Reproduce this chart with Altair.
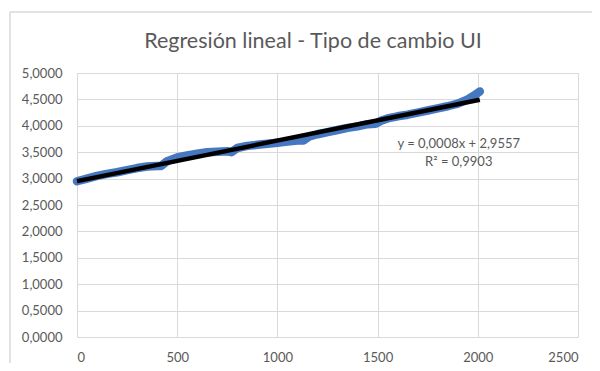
import altair as alt
import pandas as pd

# Blue series: day index vs. UI rate
x_vals = [0, 50, 100, 150, 200, 250, 300, 350, 400, 420, 450, 500, 550, 600, 650,
          700, 750, 770, 800, 850, 900, 950, 1000, 1050, 1100, 1130, 1160, 1200,
          1250, 1300, 1350, 1400, 1450, 1490, 1520, 1550, 1600, 1650, 1700, 1750,
          1800, 1850, 1900, 1950, 1980, 2010]
y_vals = [2.95, 3.00, 3.05, 3.09, 3.12, 3.16, 3.20, 3.23, 3.24, 3.24, 3.33, 3.40,
          3.44, 3.47, 3.50, 3.51, 3.52, 3.50, 3.58, 3.62, 3.64, 3.66, 3.68, 3.70,
          3.72, 3.72, 3.80, 3.84, 3.88, 3.92, 3.96, 3.99, 4.03, 4.04, 4.10, 4.14,
          4.18, 4.21, 4.25, 4.29, 4.33, 4.37, 4.42, 4.50, 4.57, 4.65]

x_ticks = [0, 500, 1000, 1500, 2000, 2500]
y_ticks = [0, 0.5, 1, 1.5, 2, 2.5, 3, 3.5, 4, 4.5, 5]

ann_text = ["y = 0,0008x + 2,9557", "R² = 0,9903"]
ann_x = [1905, 1905]
ann_y = [3.655, 3.31]

title = ["Regresión lineal - Tipo de cambio UI"]

FONT = "Lato"
GRAY = "#595959"
GRID = "#d9d9d9"

df = pd.DataFrame({"x": x_vals, "y": y_vals})
ann = pd.DataFrame({"t": ann_text, "x": ann_x, "y": ann_y})
tdf = pd.DataFrame({"t": title})

xs = alt.Scale(domain=[0, 2500], nice=False)
ys = alt.Scale(domain=[0, 5], nice=False)

x_axis = alt.Axis(values=x_ticks, title=None, grid=True, domain=False, ticks=False,
                  labelPadding=14, labelFont=FONT, labelFontSize=13, labelColor=GRAY,
                  gridColor=GRID, labelOverlap=False, format="d")
y_axis = alt.Axis(values=y_ticks, title=None, grid=True, domain=False, ticks=False,
                  labelPadding=15, labelFont=FONT, labelFontSize=13, labelColor=GRAY,
                  gridColor=GRID, labelOverlap=False,
                  labelExpr="replace(format(datum.value, '.4f'), '.', ',')")

X = alt.X("x:Q", scale=xs, axis=x_axis)
Y = alt.Y("y:Q", scale=ys, axis=y_axis)

base = alt.Chart(df)

series = base.mark_line(color="#4677C1", strokeWidth=8.5, strokeCap="round",
                        strokeJoin="round").encode(x=X, y=Y)

trend = base.transform_regression("x", "y", extent=[0, 2010]).mark_line(
    color="black", strokeWidth=4.5).encode(x=X, y=Y)

labels = alt.Chart(ann).mark_text(font=FONT, fontSize=13, color=GRAY).encode(
    x=X, y=Y, text="t:N")

title_mark = alt.Chart(tdf).mark_text(font=FONT, fontSize=21.5, color=GRAY,
                                      baseline="middle", align="center").encode(
    x=alt.value(236), y=alt.value(-31), text="t:N")

border_v = alt.Chart(tdf).mark_rule(color=GRID, strokeWidth=1.5).encode(
    x=alt.value(-67), y=alt.value(-61), y2=alt.value(320))
border_h = alt.Chart(tdf).mark_rule(color=GRID, strokeWidth=1.5).encode(
    x=alt.value(-67), x2=alt.value(540), y=alt.value(-61))

chart = alt.layer(border_v, border_h, title_mark, series, trend, labels).properties(
    width=501, height=264,
    autosize=alt.AutoSizeParams(type="none"),
    padding={"left": 69, "top": 65, "right": 14, "bottom": 26},
).configure_view(stroke=None)

chart.save("out.html", embed_options={"renderer": "svg", "actions": False})
